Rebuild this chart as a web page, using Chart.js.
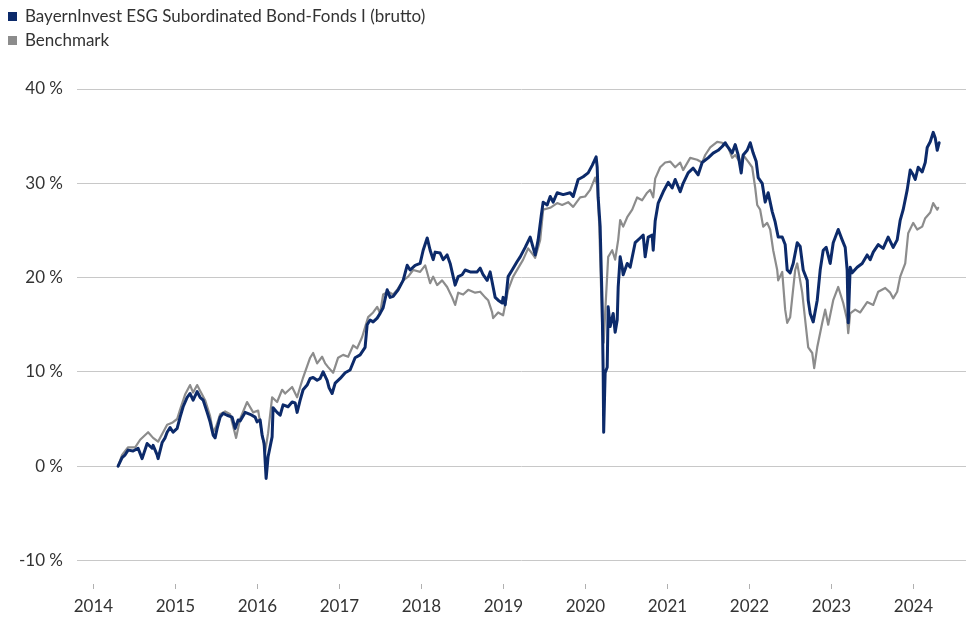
<!DOCTYPE html>
<html>
<head>
<meta charset="utf-8">
<script src="https://cdn.jsdelivr.net/npm/chart.js@4.4.1/dist/chart.umd.min.js"></script>
<style>
  html, body { margin: 0; padding: 0; background: #ffffff; }
  #wrap { position: relative; width: 969px; height: 619px; }
  canvas { position: absolute; left: 0; top: 0; }
  .lg { position: absolute; left: 8px; font-family: Lato, "Open Sans", sans-serif; font-size: 17px; color: #333333; white-space: nowrap; line-height: 20px; }
  .lg span.box { display: inline-block; width: 9px; height: 9px; margin-right: 8px; vertical-align: 1px; }
</style>
</head>
<body>
<div id="wrap">
  <canvas id="c" width="969" height="619"></canvas>
  <div class="lg" id="lg1" style="top:6px"><span class="box" style="background:#0c2a6a"></span><span id="t1"></span></div>
  <div class="lg" id="lg2" style="top:30px"><span class="box" style="background:#8c8c8c"></span><span id="t2"></span></div>
</div>
<script>
// ---------- data ----------
const seriesNames = ["BayernInvest ESG Subordinated Bond-Fonds I (brutto)", "Benchmark"];
const yearTicks = [2014, 2015, 2016, 2017, 2018, 2019, 2020, 2021, 2022, 2023, 2024];
const percentTicks = [-10, 0, 10, 20, 30, 40];

const fundDates = [
2014.301,2014.350,2014.387,2014.423,2014.484,2014.545,2014.594,2014.655,2014.716,2014.728,2014.777,2014.789,2014.838,2014.874,2014.899,2014.935,2014.972,
2015.021,2015.057,2015.094,2015.143,2015.179,2015.216,2015.265,2015.301,2015.338,2015.387,2015.423,2015.460,2015.484,2015.509,2015.545,2015.582,2015.630,2015.691,2015.728,2015.765,2015.789,2015.850,2015.911,2015.972,2015.996,
2016.033,2016.057,2016.082,2016.106,2016.130,2016.179,2016.191,2016.240,2016.277,2016.313,2016.374,2016.423,2016.460,2016.484,2016.521,2016.557,2016.606,2016.643,2016.679,2016.728,2016.765,2016.801,2016.850,2016.874,2016.911,2016.948,
2017.009,2017.070,2017.130,2017.191,2017.252,2017.313,2017.338,2017.374,2017.411,2017.460,2017.496,2017.533,2017.582,2017.618,2017.655,2017.716,2017.777,2017.826,2017.862,2017.923,2017.984,
2018.021,2018.070,2018.106,2018.143,2018.167,2018.228,2018.265,2018.313,2018.350,2018.387,2018.411,2018.448,2018.496,2018.533,2018.594,2018.679,2018.716,2018.752,2018.801,2018.838,2018.874,2018.899,2018.935,2018.984,2018.996,
2019.021,2019.057,2019.106,2019.167,2019.204,2019.265,2019.326,2019.387,2019.423,2019.460,2019.484,2019.533,2019.570,2019.606,2019.655,2019.728,2019.813,2019.850,2019.911,2019.972,
2020.033,2020.082,2020.130,2020.143,2020.155,2020.179,2020.204,2020.216,2020.222,2020.240,2020.265,2020.277,2020.301,2020.338,2020.362,2020.387,2020.399,2020.423,2020.448,2020.460,2020.509,2020.545,2020.606,2020.667,2020.704,2020.728,2020.765,2020.813,2020.826,2020.850,2020.887,2020.948,
2021.009,2021.057,2021.094,2021.155,2021.191,2021.252,2021.313,2021.374,2021.423,2021.496,2021.557,2021.618,2021.667,2021.704,2021.740,2021.789,2021.826,2021.862,2021.899,2021.923,2021.972,
2022.009,2022.045,2022.082,2022.106,2022.155,2022.191,2022.228,2022.277,2022.313,2022.350,2022.399,2022.435,2022.460,2022.496,2022.533,2022.582,2022.618,2022.655,2022.704,2022.716,2022.740,2022.777,2022.826,2022.862,2022.899,2022.935,2022.984,
2023.021,2023.082,2023.130,2023.167,2023.191,2023.204,2023.228,2023.252,2023.313,2023.374,2023.435,2023.472,2023.509,2023.570,2023.630,2023.691,2023.752,2023.801,2023.838,2023.874,2023.923,2023.960,2023.996,
2024.021,2024.057,2024.106,2024.143,2024.167,2024.204,2024.240,2024.265,2024.289,2024.313
];
const fundValues = [
0.0,0.9,1.2,1.7,1.6,1.9,0.8,2.4,1.9,2.2,1.2,0.8,2.5,3.0,3.6,4.1,3.6,
4.0,5.2,6.3,7.3,7.7,7.0,7.9,7.3,7.0,5.7,4.7,3.3,3.0,4.0,5.2,5.6,5.4,5.2,4.0,4.9,4.8,5.7,5.5,5.2,4.7,
4.9,3.3,2.4,-1.3,1.0,3.1,6.2,5.7,5.4,6.5,6.3,6.8,6.7,5.7,7.0,8.1,8.6,9.3,9.4,9.1,9.3,10.0,9.1,8.3,7.7,8.8,
9.3,9.9,10.2,11.5,11.8,12.6,15.0,15.5,15.3,15.7,16.2,16.8,18.7,17.9,18.0,18.7,19.7,21.3,20.8,21.3,21.5,
22.9,24.2,22.9,21.9,22.7,22.6,21.9,22.4,21.5,20.1,19.2,20.1,20.3,20.8,20.6,20.6,21.0,20.3,19.7,20.6,19.0,17.9,17.6,17.3,17.9,
17.1,20.1,20.8,21.7,22.2,23.2,24.3,22.4,24.0,26.5,28.0,27.7,28.6,28.0,29.0,28.8,29.0,28.6,30.4,30.7,
31.1,31.9,32.8,31.7,28.5,25.4,16.9,9.9,3.6,9.9,10.5,16.9,14.8,16.2,14.2,15.5,19.0,22.2,21.1,20.3,21.5,21.1,23.7,24.2,24.5,22.2,24.3,24.5,22.9,26.0,27.9,29.1,
30.1,29.5,30.4,29.1,30.0,31.1,31.6,30.9,32.2,32.7,33.2,33.5,33.9,34.3,33.8,33.2,34.1,33.0,31.1,33.0,33.5,
34.3,33.2,32.3,30.6,30.0,28.0,29.0,27.0,25.9,24.3,24.3,23.5,20.8,20.5,21.5,23.7,23.3,20.8,19.7,17.6,16.2,15.3,17.6,20.8,22.9,23.2,21.5,
23.7,25.1,24.0,23.2,20.8,15.2,21.1,20.5,21.1,21.5,22.4,21.9,22.7,23.5,23.1,24.3,23.2,24.0,26.1,27.2,29.3,31.4,30.9,
30.4,31.7,31.2,32.2,33.8,34.4,35.4,34.8,33.5,34.3
];

const benchDates = [
2014.301,2014.350,2014.423,2014.509,2014.570,2014.667,2014.728,2014.789,2014.850,2014.899,2014.960,
2015.021,2015.057,2015.118,2015.179,2015.216,2015.265,2015.301,2015.362,2015.423,2015.460,2015.496,2015.545,2015.606,2015.667,2015.740,2015.789,2015.874,2015.948,
2016.009,2016.033,2016.094,2016.130,2016.179,2016.240,2016.301,2016.338,2016.423,2016.484,2016.521,2016.557,2016.643,2016.679,2016.728,2016.789,2016.826,2016.862,2016.923,2016.984,
2017.045,2017.106,2017.167,2017.216,2017.277,2017.350,2017.411,2017.460,2017.496,2017.533,2017.594,2017.655,2017.704,2017.777,2017.838,2017.899,2017.984,
2018.045,2018.106,2018.143,2018.191,2018.252,2018.313,2018.374,2018.411,2018.448,2018.509,2018.570,2018.655,2018.716,2018.777,2018.813,2018.862,2018.874,2018.935,2018.996,
2019.057,2019.118,2019.179,2019.240,2019.301,2019.362,2019.387,2019.448,2019.484,2019.570,2019.655,2019.716,2019.789,2019.850,2019.935,2019.996,
2020.057,2020.118,2020.143,2020.167,2020.204,2020.222,2020.240,2020.277,2020.326,2020.362,2020.399,2020.423,2020.460,2020.509,2020.570,2020.630,2020.691,2020.752,2020.789,2020.826,2020.850,2020.911,2020.972,
2021.033,2021.094,2021.155,2021.191,2021.277,2021.362,2021.423,2021.460,2021.521,2021.606,2021.667,2021.740,2021.789,2021.826,2021.887,2021.923,2021.984,
2022.033,2022.070,2022.094,2022.130,2022.167,2022.216,2022.252,2022.289,2022.338,2022.350,2022.399,2022.435,2022.460,2022.496,2022.557,2022.582,2022.643,2022.679,2022.716,2022.765,2022.789,2022.826,2022.887,2022.923,2022.960,
2023.021,2023.082,2023.143,2023.191,2023.204,2023.228,2023.289,2023.350,2023.435,2023.509,2023.570,2023.655,2023.716,2023.752,2023.801,2023.838,2023.899,2023.935,2023.996,
2024.045,2024.106,2024.143,2024.204,2024.240,2024.289,2024.301
];
const benchValues = [
0.0,1.2,2.0,2.0,2.8,3.6,3.0,2.6,3.6,4.4,4.6,
5.0,6.0,7.6,8.6,7.8,8.6,8.0,7.0,5.3,3.6,4.2,5.5,5.8,5.5,3.0,5.0,6.8,5.7,
5.9,4.6,1.5,3.5,7.3,6.8,8.1,7.7,8.4,7.3,8.4,9.4,11.5,12.0,10.9,11.6,10.9,10.5,9.9,11.5,
11.8,11.6,12.8,12.5,13.7,15.8,16.3,16.9,16.2,18.2,18.5,18.2,18.7,19.7,20.1,20.8,20.6,
21.3,19.4,20.1,19.2,19.7,19.0,17.9,17.1,18.4,18.2,18.7,18.4,18.5,17.9,17.6,16.3,15.7,16.3,16.0,
18.7,20.1,21.0,21.9,23.1,22.4,22.1,24.0,27.2,27.4,27.9,27.7,28.0,27.5,28.5,28.6,
29.3,30.6,29.8,25.8,14.8,13.1,16.2,22.2,22.9,21.9,24.0,26.1,25.4,26.4,27.2,28.5,28.2,29.0,29.3,28.5,30.5,31.7,32.2,
32.3,31.7,32.2,31.4,32.7,32.5,32.2,33.0,33.8,34.4,34.3,33.8,32.7,33.0,32.2,33.0,32.3,
31.7,29.5,27.7,27.2,25.4,25.8,25.1,22.9,20.8,19.7,20.6,16.6,15.2,15.8,20.8,21.5,18.4,15.5,12.6,12.0,10.4,12.6,15.2,16.6,15.0,
17.6,19.0,17.3,15.5,14.1,16.2,16.6,16.3,17.4,17.1,18.5,18.9,18.4,17.8,18.5,20.1,21.5,24.7,25.8,
25.1,25.4,26.3,26.9,27.9,27.2,27.4
];

// ---------- chart ----------
const NAVY = '#0c2a6a';
const GREY = '#8c8c8c';
document.getElementById('t1').textContent = seriesNames[0];
document.getElementById('t2').textContent = seriesNames[1];

const toPoints = (xs, ys) => xs.map((x, i) => ({ x: x, y: ys[i] }));
const FONT = { family: 'Lato, "Open Sans", sans-serif', size: 17 };

new Chart(document.getElementById('c'), {
  type: 'line',
  data: {
    datasets: [
      { label: seriesNames[0], data: toPoints(fundDates, fundValues), borderColor: NAVY, backgroundColor: NAVY,
        borderWidth: 3, pointRadius: 0, tension: 0, borderJoinStyle: 'round', borderCapStyle: 'round' },
      { label: seriesNames[1], data: toPoints(benchDates, benchValues), borderColor: GREY, backgroundColor: GREY,
        borderWidth: 2.2, pointRadius: 0, tension: 0, borderJoinStyle: 'round', borderCapStyle: 'round' }
    ]
  },
  options: {
    responsive: false,
    animation: false,
    layout: { padding: { top: 89, left: 0, right: 3, bottom: 0 } },
    plugins: { legend: { display: false }, tooltip: { enabled: false } },
    scales: {
      x: {
        type: 'linear',
        min: 2013.8,
        max: 2024.64,
        afterBuildTicks: (axis) => { axis.ticks = yearTicks.map(v => ({ value: v })); },
        afterFit: (scale) => { scale.height = 35; },
        ticks: { callback: (v) => String(v), color: '#333333', font: FONT, padding: 7, maxRotation: 0, autoSkip: false },
        grid: { display: true, drawOnChartArea: false, drawTicks: true, tickLength: 5, color: '#b0b0b0', lineWidth: 1 },
        border: { display: false }
      },
      y: {
        min: -12.5,
        max: 40,
        afterBuildTicks: (axis) => { axis.ticks = percentTicks.map(v => ({ value: v })); },
        afterFit: (scale) => { scale.width = 77; },
        ticks: { callback: (v) => v + ' %', color: '#333333', font: FONT, padding: 14 },
        grid: { color: '#c8c8c8', lineWidth: 1, drawTicks: false },
        border: { display: false }
      }
    }
  }
});
</script>
</body>
</html>
